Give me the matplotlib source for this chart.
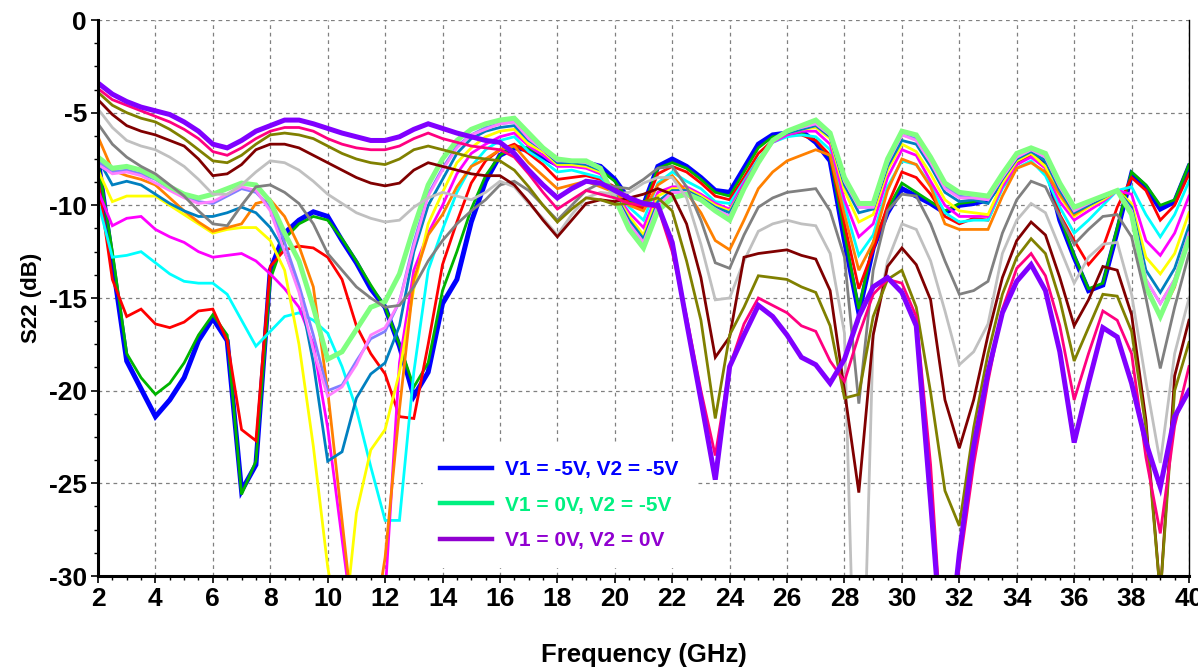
import numpy as np
import matplotlib
matplotlib.use("Agg")
import matplotlib.pyplot as plt
from matplotlib.ticker import MultipleLocator
from matplotlib.lines import Line2D

plt.rcParams['font.family'] = ['Liberation Sans', 'DejaVu Sans']
plt.rcParams['font.weight'] = 'bold'
plt.rcParams['axes.unicode_minus'] = False

# Frequency grid (GHz), 0.5 GHz steps from 2 to 40
freq = [2 + 0.5 * i for i in range(77)]

blue = [-7.5, -13.0, -18.4, -19.9, -21.4, -20.5, -19.3, -17.3, -16.1, -17.3,
        -25.4, -24.0, -13.5, -11.5, -10.8, -10.35, -10.6, -11.9, -13.1, -14.5,
        -15.5, -17.6, -20.3, -19.0, -15.3, -14.0, -10.9, -8.7, -7.3, -6.9,
        -7.0, -7.4, -7.8, -7.7, -7.7, -7.9, -8.6, -9.7, -10.0, -7.9,
        -7.5, -7.9, -8.5, -9.2, -9.3, -8.0, -6.7, -6.2, -6.1, -6.0,
        -6.6, -7.6, -11.9, -15.8, -12.3, -10.4, -9.1, -9.5, -9.9, -10.4,
        -10.0, -9.9, -9.7, -8.7, -7.7, -7.2, -7.7, -10.8, -12.8, -14.6,
        -14.3, -11.4, -8.3, -9.0, -10.2, -9.8, -7.9]
green = [-7.6, -12.5, -18.0, -19.3, -20.2, -19.6, -18.5, -17.0, -15.9, -17.0,
         -25.6, -23.8, -14.0, -11.8, -11.0, -10.6, -10.8, -11.8, -13.0, -14.3,
         -15.5, -17.5, -19.8, -18.5, -14.6, -12.5, -10.2, -8.4, -7.3, -6.8,
         -6.9, -7.3, -7.7, -7.6, -7.8, -8.1, -8.7, -9.8, -10.1, -8.0,
         -7.7, -8.0, -8.6, -9.3, -9.5, -8.2, -6.9, -6.3, -6.2, -6.1,
         -6.5, -7.4, -11.5, -15.6, -12.0, -10.2, -8.8, -9.3, -9.8, -10.3,
         -9.9, -9.8, -9.6, -8.7, -7.7, -7.1, -7.6, -10.6, -12.7, -14.5,
         -14.2, -11.2, -8.2, -8.9, -10.0, -9.7, -7.8]
red = [-8.6, -14.0, -16.0, -15.6, -16.4, -16.6, -16.3, -15.7, -15.6, -17.3,
       -22.1, -22.7, -13.3, -12.4, -12.2, -12.3, -12.8, -14.0, -16.5, -18.0,
       -19.1, -21.4, -21.5, -17.5, -13.2, -10.9, -8.8, -7.6, -7.0, -6.7,
       -7.2, -7.8, -8.6, -8.5, -8.4, -8.6, -9.0, -9.9, -10.2, -8.3,
       -7.9, -8.2, -8.8, -9.5, -9.7, -8.5, -7.2, -6.5, -6.2, -6.2,
       -6.5, -7.3, -11.0, -14.5, -12.4, -10.0, -8.2, -8.5, -9.4, -10.6,
       -11.0, -10.7, -10.8, -9.0, -7.8, -7.3, -7.9, -10.5, -11.9, -13.2,
       -12.3, -10.1, -8.5, -9.2, -10.8, -10.0, -8.3]
cyan = [-9.8, -12.8, -12.7, -12.5, -13.1, -13.7, -14.1, -14.2, -14.2, -14.8,
        -16.2, -17.6, -16.8, -16.0, -15.8, -16.2, -16.9, -18.7, -21.0, -24.1,
        -27.0, -27.0, -19.0, -13.5, -11.3, -9.3, -7.9, -7.0, -6.5, -6.3,
        -7.1, -7.6, -8.2, -8.1, -8.3, -8.5, -9.2, -10.1, -10.8, -8.8,
        -8.2, -8.7, -9.1, -9.8, -9.9, -8.7, -7.5, -6.6, -6.3, -6.2,
        -6.3, -7.0, -10.0, -12.7, -11.6, -9.0, -7.6, -7.8, -8.9, -10.4,
        -10.9, -10.8, -10.8, -9.1, -8.0, -7.6, -8.4, -10.1, -11.5, -10.8,
        -10.0, -9.2, -9.0, -10.5, -11.7, -10.5, -8.7]
magenta = [-9.2, -11.1, -10.7, -10.6, -11.3, -11.7, -12.0, -12.5, -12.8, -12.7,
           -12.6, -13.0, -13.7, -14.5, -15.5, -17.5, -22.0, -28.0, -34.0, -34.0,
           -31.0, -18.5, -13.5, -11.5, -10.0, -8.3, -7.2, -6.7, -6.3, -6.1,
           -6.8, -7.3, -7.9, -7.9, -8.0, -8.3, -9.3, -10.4, -11.2, -9.3,
           -9.0, -9.0, -9.4, -9.9, -10.2, -8.8, -7.6, -6.6, -6.2, -6.0,
           -6.0, -6.7, -9.7, -11.7, -11.0, -8.5, -7.0, -7.3, -8.7, -10.0,
           -10.6, -10.6, -10.6, -9.0, -7.8, -7.4, -8.0, -9.8, -10.8, -10.3,
           -9.8, -9.2, -9.4, -11.9, -12.7, -11.5, -9.5]
yellow = [-8.1, -9.8, -9.5, -9.5, -9.5, -10.0, -10.5, -11.0, -11.5, -11.3,
          -11.2, -11.2, -11.9, -13.5, -17.5, -23.0, -29.5, -34.0, -26.6, -23.2,
          -22.1, -19.0, -14.5, -11.0, -9.3, -7.7, -6.9, -6.3, -6.0, -5.9,
          -6.7, -7.1, -7.8, -7.8, -7.9, -8.2, -9.4, -10.6, -11.6, -9.5,
          -9.1, -9.1, -9.5, -10.0, -10.3, -9.0, -7.6, -6.5, -6.1, -5.9,
          -5.8, -6.4, -9.2, -10.9, -10.5, -8.1, -6.7, -7.1, -8.3, -9.7,
          -10.3, -10.4, -10.5, -8.8, -7.6, -7.2, -7.9, -9.5, -10.6, -10.1,
          -9.7, -9.2, -9.9, -12.8, -13.7, -12.6, -10.4]
orange = [-6.3, -8.1, -8.4, -8.6, -8.9, -9.6, -10.3, -10.9, -11.4, -11.2,
          -11.0, -9.9, -9.7, -10.6, -12.2, -14.4, -20.0, -27.0, -34.0, -34.0,
          -29.0, -21.0, -14.0, -11.6, -10.5, -9.0, -7.9, -7.5, -7.0, -6.8,
          -7.7, -8.4, -9.1, -8.9, -8.7, -9.0, -9.3, -10.0, -10.3, -8.9,
          -8.4, -9.3, -10.4, -11.9, -12.4, -10.8, -9.1, -8.2, -7.6, -7.3,
          -7.0, -7.3, -10.5, -13.5, -12.0, -9.2, -7.5, -7.8, -9.0, -11.0,
          -11.3, -11.3, -11.3, -9.5, -8.0, -7.7, -8.2, -9.4, -10.5, -10.0,
          -9.6, -9.2, -10.5, -14.3, -16.0, -14.4, -11.4]
steelblue = [-7.5, -8.9, -8.7, -8.9, -9.4, -9.9, -10.3, -10.6, -10.6, -10.4,
             -10.1, -10.4, -11.2, -12.5, -14.5, -18.5, -23.8, -23.3, -20.4, -19.1,
             -18.5, -16.5, -12.5, -10.0, -8.6, -7.2, -6.4, -6.0, -5.8, -5.7,
             -6.5, -7.0, -7.7, -7.7, -7.8, -8.1, -9.4, -10.8, -11.8, -9.8,
             -9.2, -9.2, -9.6, -10.1, -10.4, -9.0, -7.6, -6.5, -6.1, -5.9,
             -5.7, -6.3, -8.9, -10.4, -10.2, -7.9, -6.5, -6.7, -7.9, -9.3,
             -9.8, -9.7, -9.9, -8.6, -7.5, -7.1, -7.6, -9.2, -10.4, -10.0,
             -9.6, -9.2, -10.1, -13.5, -14.7, -13.4, -11.1]
lavender = [-7.6, -8.2, -8.1, -8.3, -8.6, -9.1, -9.5, -9.8, -9.9, -9.5,
            -9.1, -9.3, -10.1, -12.0, -14.3, -17.0, -20.0, -19.7, -18.4, -17.2,
            -16.8, -15.2, -12.0, -9.4, -8.0, -6.8, -6.2, -5.8, -5.6, -5.5,
            -6.3, -6.9, -7.6, -7.6, -7.7, -8.0, -9.5, -11.0, -12.0, -10.0,
            -9.3, -9.3, -9.7, -10.2, -10.6, -9.1, -7.7, -6.5, -6.0, -5.8,
            -5.6, -6.2, -8.7, -10.1, -10.1, -7.7, -6.2, -6.4, -7.6, -9.0,
            -9.5, -9.6, -9.7, -8.5, -7.4, -7.0, -7.4, -9.0, -10.2, -9.9,
            -9.5, -9.2, -10.3, -14.0, -15.3, -14.0, -11.5]
violet = [-7.8, -8.3, -8.2, -8.4, -8.8, -9.2, -9.6, -9.9, -9.8, -9.4,
          -9.0, -9.2, -10.3, -12.5, -14.7, -17.8, -20.3, -19.8, -18.6, -17.0,
          -16.6, -15.2, -12.2, -9.5, -8.1, -6.9, -6.2, -5.9, -5.6, -5.5,
          -6.4, -7.0, -7.6, -7.6, -7.7, -8.0, -9.5, -11.0, -12.0, -10.0,
          -9.3, -9.3, -9.7, -10.2, -10.6, -9.1, -7.7, -6.5, -6.0, -5.8,
          -5.6, -6.2, -8.7, -10.1, -10.1, -7.7, -6.2, -6.5, -7.7, -9.1,
          -9.6, -9.6, -9.7, -8.5, -7.4, -7.0, -7.4, -9.0, -10.3, -9.9,
          -9.5, -9.2, -10.3, -14.0, -15.3, -14.0, -11.5]
lightgreen = [-7.4, -8.0, -7.9, -8.1, -8.5, -9.0, -9.4, -9.6, -9.4, -9.1,
              -8.8, -8.9, -9.8, -11.5, -13.0, -15.5, -18.3, -17.9, -16.7, -15.5,
              -15.2, -13.7, -11.2, -8.9, -7.5, -6.5, -5.9, -5.6, -5.4, -5.3,
              -6.1, -6.9, -7.5, -7.6, -7.6, -8.0, -9.6, -11.3, -12.3, -10.3,
              -9.6, -9.4, -9.7, -10.3, -10.8, -9.1, -7.7, -6.5, -6.0, -5.7,
              -5.4, -6.1, -8.5, -9.9, -9.9, -7.5, -6.0, -6.2, -7.4, -8.8,
              -9.3, -9.4, -9.5, -8.3, -7.2, -6.9, -7.2, -8.8, -10.1, -9.8,
              -9.5, -9.2, -10.5, -14.4, -16.0, -14.2, -11.8]
gray = [-5.6, -6.7, -7.4, -7.9, -8.3, -8.9, -9.5, -10.3, -11.0, -11.1,
        -10.0, -9.0, -8.9, -9.3, -9.9, -11.0, -12.6, -13.5, -14.4, -15.0,
        -15.5, -15.4, -14.4, -13.0, -11.9, -11.0, -10.3, -9.7, -8.9, -8.7,
        -9.2, -10.0, -10.8, -10.0, -9.2, -8.8, -9.0, -9.1, -8.6, -8.0,
        -7.9, -9.0, -10.8, -13.1, -13.4, -11.6, -10.1, -9.6, -9.3, -9.2,
        -9.1, -10.3, -12.8, -20.7, -13.5, -10.3, -9.4, -9.5, -11.0, -13.0,
        -14.8, -14.6, -14.1, -11.5, -9.7, -8.7, -9.0, -10.6, -12.1, -11.3,
        -10.6, -10.5, -11.7, -15.0, -18.8, -15.5, -12.6]
lightgray = [-4.8, -5.8, -6.5, -6.8, -7.0, -7.4, -7.9, -8.6, -9.4, -9.4,
             -8.9, -8.2, -7.6, -7.7, -8.1, -8.7, -9.4, -9.9, -10.4, -10.7,
             -10.9, -10.8, -10.1, -9.6, -9.3, -9.5, -9.7, -9.3, -8.7, -9.0,
             -9.9, -10.7, -11.6, -10.5, -9.6, -9.3, -9.4, -9.3, -8.8, -8.5,
             -8.5, -9.6, -12.1, -15.1, -15.0, -13.0, -11.4, -11.0, -10.8, -11.0,
             -11.1, -12.6, -16.9, -45.0, -17.0, -13.0, -11.0, -11.3, -13.0, -15.7,
             -18.6, -17.9, -16.4, -12.6, -10.8, -9.9, -10.4, -12.3, -14.2, -12.8,
             -12.1, -12.0, -14.8, -19.5, -23.9, -18.0, -15.0]
maroon = [-4.3, -5.1, -5.7, -6.0, -6.2, -6.5, -6.8, -7.5, -8.4, -8.3,
          -7.8, -7.0, -6.7, -6.7, -6.9, -7.3, -7.7, -8.1, -8.5, -8.8,
          -8.95, -8.8, -8.1, -7.7, -7.9, -8.1, -8.3, -8.4, -8.4, -8.9,
          -9.8, -10.8, -11.7, -10.8, -9.9, -9.7, -9.8, -9.6, -9.4, -9.1,
          -9.4, -11.0, -13.9, -18.2, -17.1, -12.8, -12.6, -12.5, -12.4, -12.7,
          -12.9, -14.6, -20.0, -25.5, -17.0, -13.3, -12.3, -13.2, -15.1, -20.5,
          -23.1, -20.5, -17.0, -13.9, -11.9, -10.9, -11.6, -13.9, -16.5, -15.1,
          -13.3, -13.5, -15.9, -21.6, -31.0, -19.2, -16.2]
olive = [-3.9, -4.6, -5.0, -5.3, -5.5, -5.9, -6.4, -7.0, -7.6, -7.7,
         -7.3, -6.7, -6.2, -6.1, -6.2, -6.4, -6.8, -7.2, -7.5, -7.7,
         -7.8, -7.5, -7.0, -6.8, -7.0, -7.2, -7.4, -7.5, -7.6, -8.1,
         -9.0, -10.0, -10.9, -10.2, -9.6, -9.7, -9.95, -9.9, -9.8, -9.6,
         -10.3, -13.0, -16.2, -21.5, -17.0, -15.5, -13.8, -13.9, -14.0, -14.4,
         -14.7, -16.5, -20.4, -20.2, -16.0, -14.0, -13.5, -15.5, -20.1, -25.4,
         -27.3, -22.0, -18.0, -14.8, -12.8, -11.8, -12.6, -15.1, -18.4, -16.6,
         -14.8, -14.9, -16.8, -22.0, -31.0, -20.0, -17.4]
deeppink = [-3.7, -4.3, -4.6, -4.9, -5.2, -5.5, -5.9, -6.4, -7.1, -7.3,
            -6.9, -6.4, -6.0, -5.8, -5.8, -6.0, -6.4, -6.7, -6.9, -7.0,
            -7.0, -6.8, -6.4, -6.1, -6.4, -6.6, -6.8, -6.9, -7.0, -7.4,
            -8.3, -9.3, -10.2, -9.7, -9.2, -9.4, -9.6, -9.9, -10.0, -10.1,
            -12.5, -16.0, -20.0, -23.5, -18.7, -16.4, -15.0, -15.4, -15.8, -16.5,
            -16.8, -18.4, -19.5, -17.0, -14.8, -14.0, -14.2, -16.0, -24.0, -36.0,
            -29.5, -24.0, -19.5, -15.6, -13.4, -12.6, -13.8, -16.5, -20.5, -18.0,
            -15.7, -16.2, -18.0, -23.6, -27.7, -21.9, -18.7]
purple = [-3.4, -4.0, -4.4, -4.7, -4.9, -5.1, -5.5, -6.0, -6.7, -6.9,
          -6.5, -6.0, -5.7, -5.4, -5.4, -5.6, -5.85, -6.1, -6.3, -6.5,
          -6.5, -6.3, -5.9, -5.6, -5.85, -6.1, -6.3, -6.5, -6.6, -7.2,
          -8.1, -8.9, -9.6, -9.1, -8.7, -8.8, -9.2, -9.6, -9.9, -10.0,
          -12.0, -16.3, -20.5, -24.8, -18.7, -17.0, -15.4, -16.0, -17.0, -18.2,
          -18.6, -19.6, -18.3, -16.0, -14.4, -13.9, -14.7, -16.5, -26.0, -36.0,
          -28.8, -23.0, -19.0, -15.8, -14.1, -13.2, -14.6, -17.9, -22.8, -19.6,
          -16.6, -17.1, -19.6, -22.8, -25.2, -21.4, -20.0]

series = [
    (blue, '#0000ff', 3.6),
    (green, '#00b400', 2.0),
    (red, '#ff0000', 2.0),
    (cyan, '#00ffff', 2.0),
    (magenta, '#ff00ff', 2.0),
    (yellow, '#ffff00', 2.0),
    (orange, '#ff8000', 2.0),
    (steelblue, '#0080c0', 2.0),
    (lavender, '#8080ff', 2.0),
    (violet, '#ff80ff', 2.0),
    (lightgreen, '#80ff80', 3.6),
    (gray, '#808080', 2.0),
    (lightgray, '#c0c0c0', 2.0),
    (maroon, '#800000', 2.0),
    (olive, '#808000', 2.0),
    (deeppink, '#ff0080', 2.0),
    (purple, '#8000ff', 3.6),
]

legend_labels = ['V1 = -5V, V2 = -5V', 'V1 = 0V, V2 = -5V', 'V1 = 0V, V2 = 0V']
legend_colors = ['#0000ff', '#00f080', '#9000d0']

fig = plt.figure(figsize=(11.98, 6.67), dpi=100)
ax = fig.add_axes([98/1198, 1 - 576/667, (1189-98)/1198, (576-20)/667])

for vals, col, lw in series:
    ax.plot(freq, vals, color=col, lw=lw, solid_joinstyle='miter', zorder=2)

ax.set_xlim(2, 40)
ax.set_ylim(-30, 0)
ax.xaxis.set_major_locator(MultipleLocator(2))
ax.xaxis.set_minor_locator(MultipleLocator(0.5))
ax.yaxis.set_major_locator(MultipleLocator(5))
ax.yaxis.set_minor_locator(MultipleLocator(1.25))
ax.grid(True, which='major', color='#808080', linestyle=(0, (3, 3)), lw=0.9)
ax.set_axisbelow(True)

ax.spines['top'].set_visible(False)
ax.spines['left'].set_linewidth(2.2)
ax.spines['bottom'].set_linewidth(2.2)
ax.spines['right'].set_linewidth(1.0)
ax.tick_params(axis='both', which='major', direction='out', length=5, width=1.2,
               labelsize=19, pad=3)
ax.tick_params(axis='both', which='minor', direction='out', length=3, width=1.0)
for lab in ax.get_xticklabels() + ax.get_yticklabels():
    lab.set_fontweight('bold')

ax.set_xlabel('Frequency (GHz)', fontsize=18.5, fontweight='bold', labelpad=23)
ax.set_ylabel('S22 (dB)', fontsize=16, fontweight='bold', labelpad=5)

handles = [Line2D([], [], color=c, lw=3.2) for c in legend_colors]
leg = ax.legend(handles, legend_labels, loc='upper left',
                bbox_to_anchor=(0.2886, 0.2576), frameon=True, facecolor='white',
                edgecolor='white', framealpha=1.0, fancybox=False,
                prop={'weight': 'bold', 'size': 15}, labelcolor=legend_colors,
                handlelength=2.5, handletextpad=0.6, labelspacing=0.8,
                borderpad=0.8)
leg.set_zorder(1.5)

fig.savefig('out.png', dpi=100)
